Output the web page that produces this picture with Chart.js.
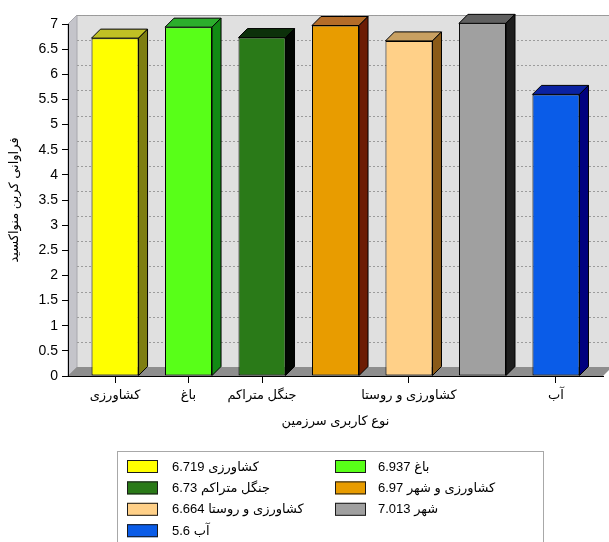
<!DOCTYPE html>
<html>
<head>
<meta charset="utf-8">
<script src="https://cdn.jsdelivr.net/npm/chart.js@4.4.1/dist/chart.umd.min.js"></script>
<style>
html,body{margin:0;padding:0;background:#fff;}
#wrap{width:609px;height:542px;position:relative;}
</style>
</head>
<body>
<div id="wrap"><canvas id="c" width="609" height="542"></canvas></div>
<script>
// ---- data ----
const categories = ['کشاورزی','باغ','جنگل متراکم','کشاورزی و شهر','کشاورزی و روستا','شهر','آب'];
const values = [6.719, 6.937, 6.73, 6.97, 6.664, 7.013, 5.6];
const axisTickLabels = ['کشاورزی','باغ','جنگل متراکم','','کشاورزی و روستا','','آب'];
const xTitle = 'نوع کاربری سرزمین';
const yTitle = 'فراوانی کربن منواکسید';

// ---- styles ----
const frontColors = ['#ffff00','#58ff18','#2a7a18','#e89c00','#ffd088','#a0a0a0','#0a5ce8'];
const topColors   = ['#c0c024','#2cae2c','#0c300a','#b46c28','#c8a062','#606060','#0a22a2'];
const sideColors  = ['#7e7e12','#128a14','#020602','#6c1c04','#8a5a18','#1e1e1e','#00007e'];
const depth = 9;
const FONT = "'Liberation Sans', 'DejaVu Sans', sans-serif";

function poly(ctx, pts, fill, stroke){
  ctx.beginPath();
  ctx.moveTo(pts[0][0], pts[0][1]);
  for (let i=1;i<pts.length;i++) ctx.lineTo(pts[i][0], pts[i][1]);
  ctx.closePath();
  if (fill){ ctx.fillStyle = fill; ctx.fill(); }
  if (stroke){ ctx.strokeStyle = stroke; ctx.lineWidth = 1; ctx.stroke(); }
}

const threeD = {
  id: 'threeD',
  beforeDraw(chart){
    const {ctx, chartArea:a, scales:{y}} = chart;
    ctx.save();
    // back wall
    ctx.fillStyle = '#e0e0e0';
    ctx.fillRect(a.left+depth, a.top-depth, a.right-a.left, a.bottom-a.top);
    ctx.strokeStyle = '#9a9a9a'; ctx.lineWidth = 1;
    ctx.beginPath(); ctx.moveTo(a.left+depth, a.top-depth+0.5); ctx.lineTo(a.right+depth, a.top-depth+0.5); ctx.stroke();
    // left wall
    poly(ctx, [[a.left,a.top],[a.left+depth,a.top-depth],[a.left+depth,a.bottom-depth],[a.left,a.bottom]], '#c4c4ca', '#a8a8ae');
    // floor
    poly(ctx, [[a.left,a.bottom],[a.left+depth,a.bottom-depth],[a.right+depth,a.bottom-depth],[a.right,a.bottom]], '#8e8e8e', null);
    // dotted grid on back wall
    ctx.setLineDash([2,2]);
    ctx.strokeStyle = '#9c9c9c';
    y.ticks.forEach(t => {
      if (t.value <= 0) return;
      const py = Math.round(y.getPixelForValue(t.value) - depth) + 0.5;
      ctx.beginPath(); ctx.moveTo(a.left+depth, py); ctx.lineTo(a.right+depth, py); ctx.stroke();
    });
    ctx.restore();
  },
  afterDatasetsDraw(chart){
    const {ctx} = chart;
    const meta = chart.getDatasetMeta(0);
    ctx.save();
    ctx.setLineDash([]);
    meta.data.forEach((bar, i) => {
      const {x, y, base, width} = bar.getProps(['x','y','base','width'], true);
      const x1 = x - width/2, x2 = x + width/2;
      poly(ctx, [[x1,y],[x1+depth,y-depth],[x2+depth,y-depth],[x2,y]], topColors[i], '#000');
      poly(ctx, [[x2,y],[x2+depth,y-depth],[x2+depth,base-depth],[x2,base]], sideColors[i], '#000');
    });
    ctx.restore();
  },
  afterDraw(chart){
    const {ctx} = chart;
    ctx.save();
    // legend frame
    ctx.strokeStyle = '#a8a8a8'; ctx.lineWidth = 1;
    ctx.strokeRect(117.5, 451.5, 426, 100);
    const colX = [127, 335];
    const textX = [172, 378];
    const row0 = 466, rowH = 21.4;
    ctx.font = "13px " + FONT;
    ctx.textBaseline = 'middle';
    ctx.direction = 'rtl';
    ctx.textAlign = 'left';
    categories.forEach((c, i) => {
      const col = i % 2, row = Math.floor(i/2);
      const cy = row0 + row*rowH;
      ctx.fillStyle = frontColors[i];
      ctx.fillRect(colX[col], cy-6, 31, 13);
      ctx.strokeStyle = '#1a1a1a';
      ctx.strokeRect(colX[col]+0.5, cy-5.5, 30, 12);
      ctx.fillStyle = '#000';
      ctx.fillText(c + ' ' + values[i], textX[col], cy+1);
    });
    ctx.restore();
  }
};

Chart.defaults.font.family = FONT;
Chart.defaults.color = '#000';

new Chart(document.getElementById('c'), {
  type: 'bar',
  data: {
    datasets: [{
      data: values.map((v, i) => ({x: i, y: v})),
      backgroundColor: frontColors,
      borderColor: '#000',
      borderWidth: 1,
      borderSkipped: false,
      barPercentage: 0.64,
      categoryPercentage: 1,
      clip: false
    }]
  },
  options: {
    responsive: false,
    animation: false,
    layout: { padding: { top: 24, right: 6, bottom: 102, left: 0 } },
    plugins: { legend: { display: false }, tooltip: { enabled: false } },
    scales: {
      x: {
        type: 'linear',
        offset: false,
        min: -0.64, max: 6.64,
        afterFit: s => { s.height = 64; },
        ticks: {
          stepSize: 1, includeBounds: false, autoSkip: false, maxRotation: 0,
          padding: 5,
          font: { size: 13 },
          callback: v => axisTickLabels[v] ?? ''
        },
        grid: {
          offset: false,
          drawOnChartArea: false, tickLength: 7,
          color: c => axisTickLabels[c.index] ? '#000' : 'rgba(0,0,0,0)'
        },
        border: { display: true, color: '#000' },
        title: { display: true, text: xTitle, font: { size: 13 }, padding: { top: 0, bottom: 11 } }
      },
      y: {
        min: 0, max: 7,
        afterFit: s => { s.width = 68; },
        ticks: { stepSize: 0.5, padding: 4, font: { size: 14 }, callback: v => String(v) },
        grid: { drawOnChartArea: false, tickLength: 6, color: '#000' },
        border: { display: true, color: '#000' },
        title: { display: true, text: yTitle, font: { size: 13 }, padding: { top: 7, bottom: 0 } }
      }
    }
  },
  plugins: [threeD]
});
</script>
</body>
</html>
